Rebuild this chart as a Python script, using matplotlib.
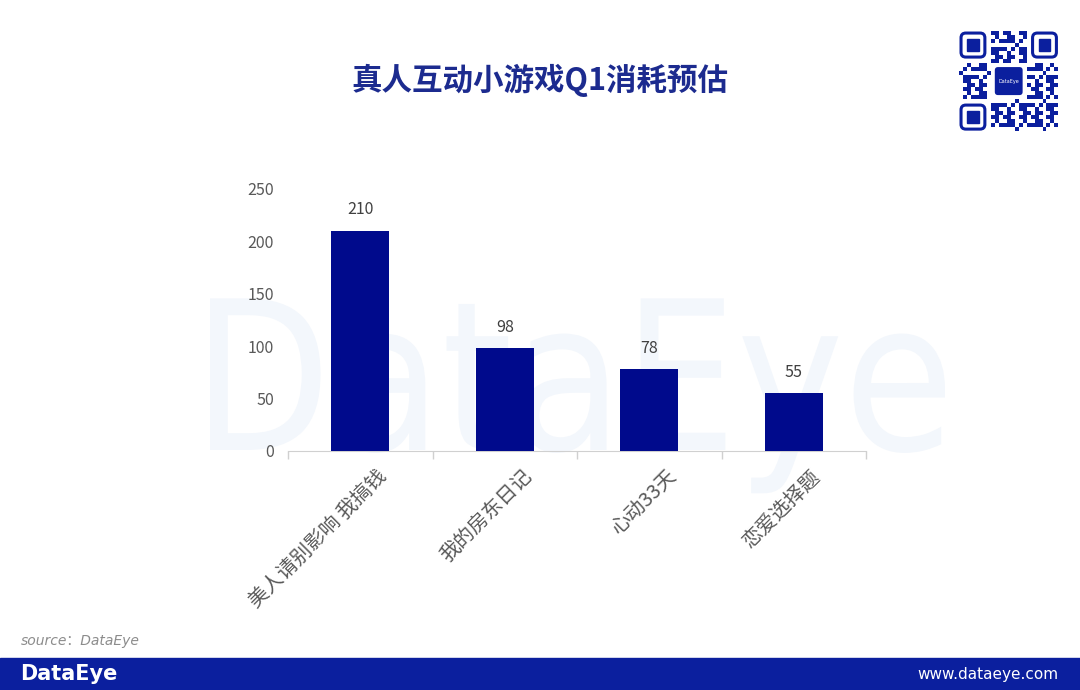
import numpy as np
import matplotlib.pyplot as plt
from matplotlib.patches import Rectangle, FancyBboxPatch, PathPatch
from matplotlib.textpath import TextPath
from matplotlib.font_manager import FontProperties
from matplotlib.transforms import Affine2D, ScaledTranslation

plt.rcParams['font.family'] = ['Noto Sans CJK SC', 'DejaVu Sans']

categories = ['美人请别影响 我搞钱', '我的房东日记', '心动33天', '恋爱选择题']
values = [210, 98, 78, 55]
yticks = [0, 50, 100, 150, 200, 250]

NAVY = '#000a8c'
BANNER = '#0b1f9e'
W, H = 1080, 690

fig = plt.figure(figsize=(10.8, 6.9), dpi=100)
fig.patch.set_facecolor('white')

# faint watermark behind the chart, fitted to a pixel box
wm = TextPath((0, 0), 'DataEye', size=1, prop=FontProperties(family='DejaVu Sans'))
ext = wm.get_extents()
sx = (735 / W) / ext.width
sy = (208 / H)
tr = Affine2D().translate(-ext.x0, 0).scale(sx, sy).translate(210 / W, 1 - 450 / H)
fig.patches.append(PathPatch(wm, transform=tr + fig.transFigure, fc='#f3f7fc',
                             ec='none', zorder=-1))

ax = fig.add_axes([0.2667, 0.3464, 0.5352, 0.3797])
ax.patch.set_alpha(0)
x = np.arange(len(categories))
ax.bar(x, values, width=0.4, color=NAVY, zorder=3)
for xi, v in zip(x, values):
    ax.text(xi, v + 12, str(v), ha='center', va='bottom', fontsize=11.5,
            color='#404040')

ax.set_xlim(-0.5, len(categories) - 0.5)
ax.set_ylim(0, 250)
ax.set_yticks(yticks)
ax.set_yticklabels([str(t) for t in yticks], fontsize=11.5, color='#595959')
ax.tick_params(axis='y', length=0, pad=10)
ax.set_xticks(x)
ax.set_xticklabels(categories, rotation=45, ha='right', va='center',
                   rotation_mode='anchor', fontsize=14.5, color='#595959')
ax.tick_params(axis='x', which='major', length=0, pad=16)
shift = ScaledTranslation(0.24, 0, fig.dpi_scale_trans)
for lab in ax.get_xticklabels():
    lab.set_transform(lab.get_transform() + shift)
ax.set_xticks(np.arange(len(categories) + 1) - 0.5, minor=True)
ax.tick_params(axis='x', which='minor', length=6, color='#d0d0d0', width=1)
for s in ['top', 'right', 'left']:
    ax.spines[s].set_visible(False)
ax.spines['bottom'].set_color('#d0d0d0')

# title
fig.text(0.5, 0.884, '真人互动小游戏Q1消耗预估', ha='center', va='center',
         fontsize=22, fontweight='bold', color='#1c2b8f')

# QR code style badge (decorative)
qr = fig.add_axes([0.888, 0.81, 0.092, 0.145])
n = 25
qr.set_xlim(0, n)
qr.set_ylim(0, n)
qr.axis('off')
for i in range(n):
    for j in range(n):
        in_finder = (i < 8 and j < 8) or (i < 8 and j > 16) or (i > 16 and j > 16)
        in_logo = 8 <= i <= 16 and 8 <= j <= 16
        if in_finder or in_logo:
            continue
        if (i * i * 3 + j * j * 5 + i * j) % 7 < 3:
            qr.add_patch(Rectangle((i, j), 1, 1, color=BANNER, lw=0))
for (cx, cy) in [(0, 18), (18, 18), (0, 0)]:
    qr.add_patch(FancyBboxPatch((cx + 0.5, cy + 0.5), 6, 6,
                                boxstyle='round,pad=0,rounding_size=1.2',
                                fc='none', ec=BANNER, lw=2.2))
    qr.add_patch(Rectangle((cx + 2, cy + 2), 3, 3, color=BANNER))
qr.add_patch(FancyBboxPatch((9, 9), 7, 7, boxstyle='round,pad=0,rounding_size=0.8',
                            fc=BANNER, ec='none'))
qr.text(12.5, 12.5, 'DataEye', color='white', fontsize=3.5, ha='center',
        va='center', family='DejaVu Sans')

# source
fig.text(0.019, 0.071, 'source：DataEye', fontsize=10, style='italic',
         color='#8c8c8c', va='center', family=['DejaVu Sans', 'Noto Sans CJK SC'])

# bottom banner
fig.patches.append(Rectangle((0, 0), 1, 0.046, transform=fig.transFigure,
                             color=BANNER, zorder=1))
fig.text(0.019, 0.023, 'DataEye', fontsize=15, fontweight='bold', color='white',
         va='center', family='DejaVu Sans', zorder=2)
fig.text(0.98, 0.023, 'www.dataeye.com', fontsize=11, color='white',
         va='center', ha='right', family='DejaVu Sans', zorder=2)

fig.savefig('out.png', dpi=100)
